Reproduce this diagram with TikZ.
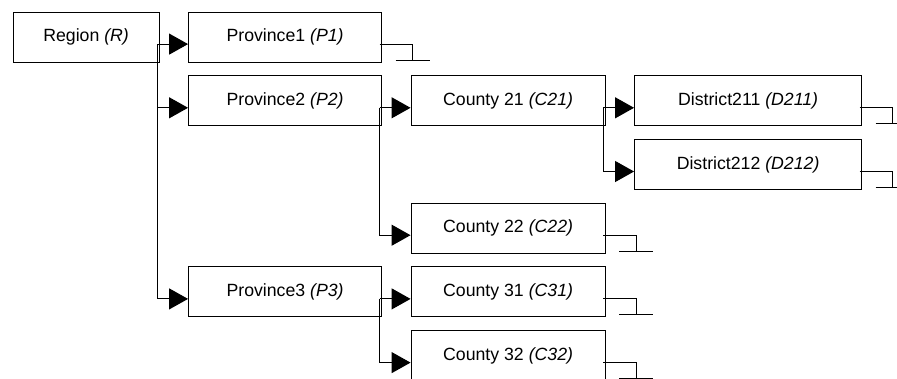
\documentclass[tikz,border=0pt]{standalone}
\usepackage{fontspec}
\setmainfont{Liberation Sans}
\usepackage{tikz}
\usetikzlibrary{arrows.meta,matrix}

% end stub of a leaf: short line out and a ground bar
\newcommand{\leafend}[1]{%
  \draw[-] ([xshift=-2.5pt,yshift=-7pt]#1.east) -- ++(33pt,0pt) -- ++(0pt,-16pt)
    ++(-17pt,0pt) -- ++(34pt,0pt);}

\begin{document}
\begin{tikzpicture}[->,>={Triangle[length=19pt,width=21pt]}
	,line width=1.1pt]
  \tikzstyle{box}
  =[draw,rectangle,minimum height=50pt,inner sep=0pt,
    font=\fontsize{17.7}{20}\selectfont]
  \tikzstyle{rbox}=[box,minimum width=146pt]
  \tikzstyle{pbox}=[box,minimum width=193pt]
  \tikzstyle{cbox}=[box,minimum width=194pt]
  \tikzstyle{dbox}=[box,minimum width=227pt]

  \useasboundingbox (0pt,0pt) rectangle (897pt,-378pt);

  \matrix (m) [anchor=north west,inner sep=0pt
  ,row sep=12.6pt,column sep=28.4pt] at (12pt,-11pt) {
    % region and first province
    \node[rbox](reg) {Region \textit{(R)}}; &
    \node[pbox](p1) {Province1 \textit{(P1)}}; & & 
    \\
    % second province, its first county and district
    &
    \node[pbox](p2) {Province2 \textit{(P2)}}; &
    \node[cbox](c21) {County 21 \textit{(C21)}}; &
    \node[dbox](d211) {District211 \textit{(D211)}};
    \\
    % second district
    & & &
    \node[dbox](d212) {District212 \textit{(D212)}};
    \\
    % second county
    & &
    \node[cbox](c22) {County 22 \textit{(C22)}}; &
    \\
    % third province
    &
    \node[pbox](p3) {Province3 \textit{(P3)}}; &
    \node[cbox](c31) {County 31 \textit{(C31)}}; &
    \\
    % last county
    & &
    \node[cbox](c32) {County 32 \textit{(C32)}}; &
    \\
  };
  % fork points, just inside the right side of each parent
  \coordinate (regfork) at ([xshift=-2.5pt,yshift=-7pt]reg.east);
  \coordinate (p2fork)  at ([xshift=-2.5pt,yshift=-7pt]p2.east);
  \coordinate (p3fork)  at ([xshift=-2.5pt,yshift=-7pt]p3.east);
  \coordinate (c21fork) at ([xshift=-2.5pt,yshift=-7pt]c21.east);
  % region
  \draw (regfork) |- ([yshift=-7pt]p1.west);
  \draw (regfork) |- ([yshift=-7pt]p2.west);
  \draw (regfork) |- ([yshift=-7pt]p3.west);
  % province 2
  \draw (p2fork)  |- ([yshift=-7pt]c21.west);
  \draw (p2fork)  |- ([yshift=-7pt]c22.west);
  % county 21
  \draw (c21fork) |- ([yshift=-7pt]d211.west);
  \draw (c21fork) |- ([yshift=-7pt]d212.west);
  % province 3
  \draw (p3fork)  |- ([yshift=-7pt]c31.west);
  \draw (p3fork)  |- ([yshift=-7pt]c32.west);
  % leaves
  \leafend{p1}
  \leafend{d211}
  \leafend{d212}
  \leafend{c22}
  \leafend{c31}
  \leafend{c32}
\end{tikzpicture}
\end{document}
